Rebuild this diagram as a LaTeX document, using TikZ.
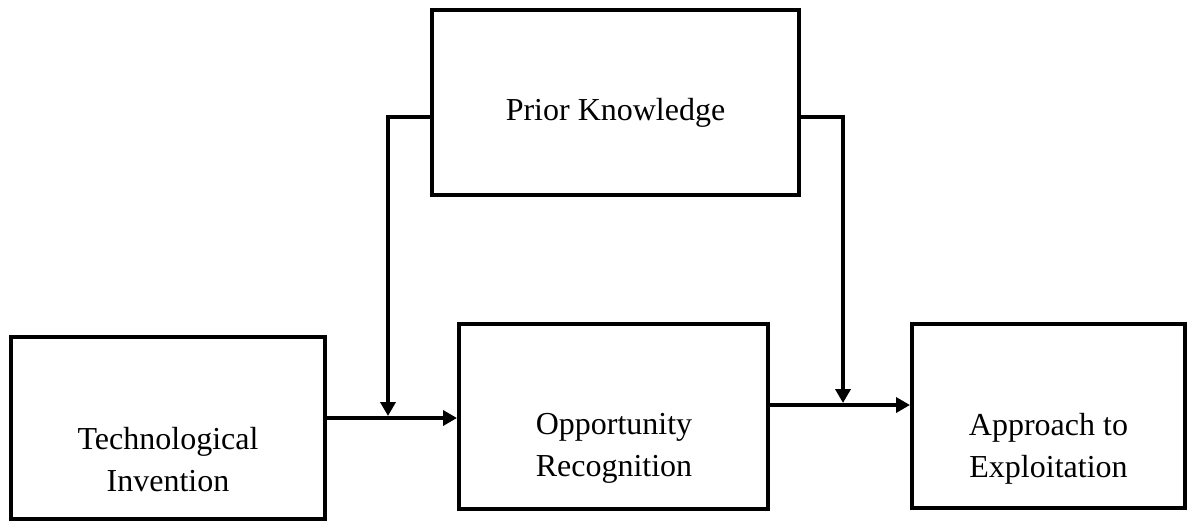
\documentclass[tikz,border=0pt]{standalone}
\usepackage{fontspec}
\setmainfont{Liberation Serif}
\usetikzlibrary{arrows.meta,calc}
\begin{document}
\begin{tikzpicture}[x=0.5pt,y=-0.5pt,
  box/.style={draw=black, line width=2pt, inner sep=0pt, fill=white},
  lbl/.style={font=\fontsize{16pt}{21pt}\selectfont, align=center, inner sep=0pt},
  conn/.style={draw=black, line width=2pt},
  arr/.style={conn, -{Triangle[length=7pt,width=7.5pt]}}]
\useasboundingbox (0,0) rectangle (1192,521);
% boxes
\node[box, minimum width=183.5pt, minimum height=92.5pt] (prior) at (615.5,102.5) {};
\node[box, minimum width=157pt, minimum height=91pt] (tech) at (168,428) {};
\node[box, minimum width=154.5pt, minimum height=92.5pt] (opp) at (613.5,416.5) {};
\node[box, minimum width=136.5pt, minimum height=92pt] (appr) at (1048.5,416) {};
% labels
\node[lbl, anchor=base] (priorT) at (615.5,120) {Prior Knowledge};
\node[lbl] (techT) at (168,460) {Technological\\Invention};
\node[lbl] (oppT) at (614,448.5) {Opportunity\\Recognition};
\node[lbl] (apprT) at (1048.5,448.5) {Approach to\\Exploitation};
% junction coordinates
\coordinate (pl) at (prior.west |- 0,117);
\coordinate (pr) at (prior.east |- 0,117);
\coordinate (jl) at (388,416);
\coordinate (jr) at (843,403);
\coordinate (hl) at (0,418);
\coordinate (hr) at (0,405);
% connectors
\draw[arr] (tech.east |- hl) -- (opp.west |- hl);
\draw[arr] (opp.east |- hr) -- (appr.west |- hr);
\draw[arr] (pl) -| (jl);
\draw[arr] (pr) -| (jr);
\end{tikzpicture}
\end{document}
